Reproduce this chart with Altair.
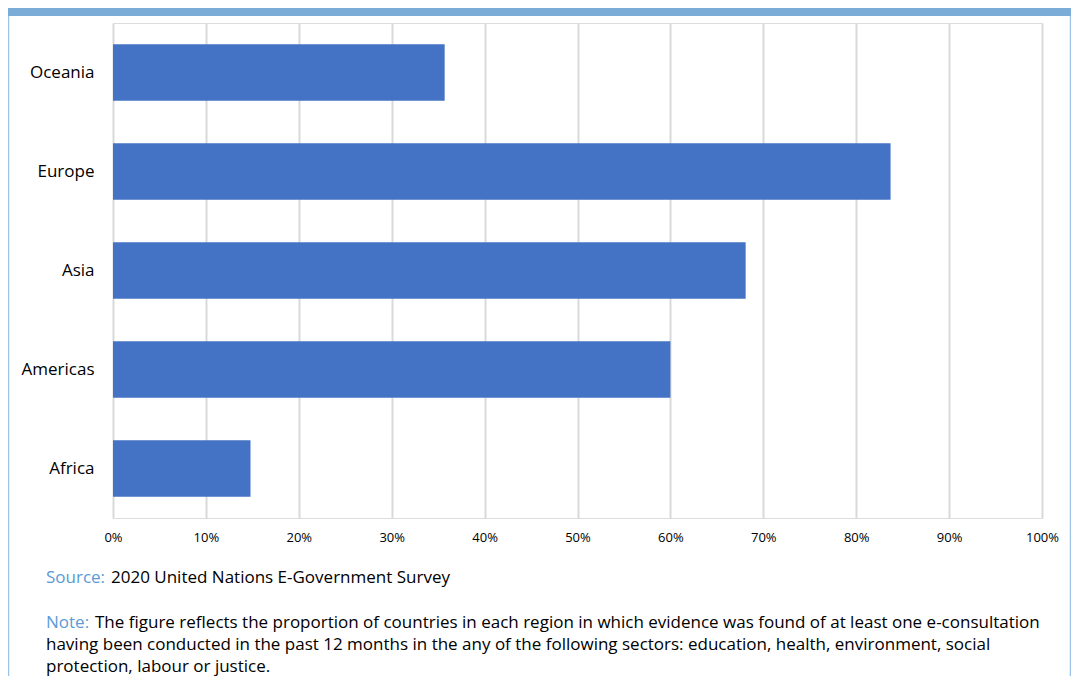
import altair as alt
import pandas as pd

regions = ["Oceania", "Europe", "Asia", "Americas", "Africa"]
shares = [0.357, 0.837, 0.681, 0.600, 0.148]

source_label = "Source:"
source_text = "2020 United Nations E-Government Survey"
note_label = "Note:"
note_lines = [
    "The figure reflects the proportion of countries in each region in which evidence was found of at least one e-consultation",
    "having been conducted in the past 12 months in the any of the following sectors: education, health, environment, social",
    "protection, labour or justice.",
]

df = pd.DataFrame({"region": regions, "share": shares})
one = pd.DataFrame({"k": [0]})

FONT = "Open Sans"
BLUE_LABEL = "#5B9BD5"

bars = alt.Chart(df).mark_bar(color="#4472C4").encode(
    x=alt.X("share:Q", scale=alt.Scale(domain=[0, 1], nice=False),
            axis=alt.Axis(format="%", values=[i / 10 for i in range(11)], title=None,
                          grid=True, gridColor="#D9D9D9", gridWidth=2,
                          domain=False, ticks=False, labelFontSize=13, labelFlush=False,
                          labelFont=FONT, labelColor="#000000", labelPadding=13)),
    y=alt.Y("region:N", sort=regions, scale=alt.Scale(paddingInner=0.43, paddingOuter=0.215),
            axis=alt.Axis(title=None, domain=False, ticks=False, labelFontSize=17,
                          labelFont=FONT, labelColor="#000000", labelPadding=19)),
)

def txt(s, x, y, color="#000000", size=17):
    return alt.Chart(one).mark_text(align="left", baseline="middle", font=FONT,
                                    fontSize=size, color=color).encode(
        x=alt.value(x), y=alt.value(y), text=alt.value(s))

layers = [bars]
layers.append(txt(source_label, -67, 555, BLUE_LABEL))
layers.append(txt(source_text, -2, 555))
layers.append(txt(note_label, -67, 600, BLUE_LABEL))
layers.append(txt(note_lines[0], -18, 600))
layers.append(txt(note_lines[1], -67, 622))
layers.append(txt(note_lines[2], -67, 644))

top_bar = alt.Chart(one).mark_rect(color="#7BACD8").encode(
    x=alt.value(-105), x2=alt.value(958), y=alt.value(-15), y2=alt.value(-7))
left_border = alt.Chart(one).mark_rule(color="#9DC3E6", strokeWidth=1.5).encode(
    x=alt.value(-104.5), y=alt.value(-7), y2=alt.value(700))
right_border = alt.Chart(one).mark_rule(color="#9DC3E6", strokeWidth=1.5).encode(
    x=alt.value(957.5), y=alt.value(-7), y2=alt.value(700))
layers += [top_bar, left_border, right_border]

chart = alt.layer(*layers).properties(
    width=929, height=495,
    autosize=alt.AutoSizeParams(type="none"),
    padding={"left": 105, "top": 15, "right": 29, "bottom": 158},
).configure_view(stroke=None).configure(background="white")

chart.save("out.html", embed_options={"renderer": "svg", "actions": False})
